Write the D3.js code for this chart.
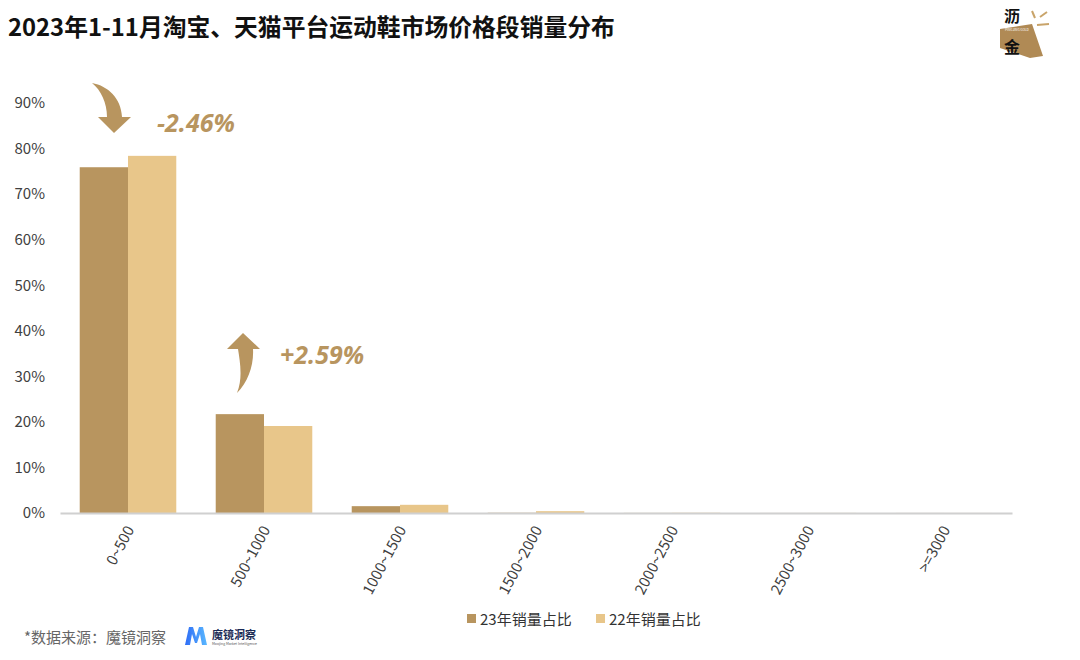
<!DOCTYPE html>
<html><head><meta charset="utf-8">
<script src="https://cdn.jsdelivr.net/npm/d3@7"></script>
<style>body{margin:0;background:#fff;font-family:"Noto Sans CJK SC","Noto Sans",sans-serif;}</style>
</head><body>
<svg id="c" width="1080" height="660"></svg>
<script>
const categories = ["0~500","500~1000","1000~1500","1500~2000","2000~2500","2500~3000",">=3000"];
const series = ["23年销量占比","22年销量占比"];
const values23 = [75.9, 21.7, 1.5, 0.05, 0.02, 0.01, 0.01];
const values22 = [78.4, 19.1, 1.8, 0.4, 0.05, 0.02, 0.01];
const yTicks = [0,10,20,30,40,50,60,70,80,90];
const colors = ["#b8955f","#e8c68a"];

const svg = d3.select("#c");
const m = {l:60, r:1012, t:103, b:513};
const x = d3.scaleBand().domain(categories).range([m.l, m.r]).paddingInner(0.29).paddingOuter(0.145);
const xs = d3.scaleBand().domain(series).range([0, x.bandwidth()]);
const y = d3.scaleLinear().domain([0,90]).range([m.b, m.t]);
const cjk = "'Noto Sans CJK SC','Noto Sans',sans-serif";

// title
svg.append("text").attr("x",8).attr("y",36).attr("font-size",23.8).attr("font-weight","bold").attr("fill","#111")
  .attr("font-family",cjk).text("2023年1-11月淘宝、天猫平台运动鞋市场价格段销量分布");

// y axis labels
const ya = svg.append("g").attr("transform",`translate(${m.l-15},0)`)
  .call(d3.axisLeft(y).tickValues(yTicks).tickFormat(d=>d+"%").tickSize(0).tickPadding(0));
ya.select(".domain").remove();
ya.selectAll("text").attr("font-size",15).attr("fill","#404040").attr("font-family",cjk);

// bars
const data = categories.map((c,i)=>({c, v:[values23[i], values22[i]]}));
const g = svg.append("g");
data.forEach(d=>{
  series.forEach((s,j)=>{
    g.append("rect").attr("x", x(d.c)+xs(s)).attr("y", y(d.v[j])).attr("width", xs.bandwidth())
     .attr("height", y(0)-y(d.v[j])).attr("fill", colors[j]);
  });
});

// x axis
const xa = svg.append("g").attr("transform",`translate(0,${m.b})`)
  .call(d3.axisBottom(x).tickSize(0).tickPadding(0));
xa.select(".domain").attr("stroke","#d0d0d0").attr("stroke-width",2);
xa.selectAll("text").attr("font-size",15).attr("fill","#404040").attr("font-family",cjk)
  .attr("text-anchor","end").attr("dy","0.35em")
  .attr("transform","translate(2,14) rotate(-62)");

// arrows
const ac = "#b8955f";
svg.append("path").attr("fill",ac)
  .attr("d","M92,83 C108,86 121,98 122,117 L131,117 L114,133 L98,117 L107,117 C107,103 101,90 92,83 Z");
svg.append("text").attr("x",157).attr("y",132).attr("font-size",25).attr("font-weight","bold").attr("font-style","italic")
  .attr("fill",ac).attr("font-family","'Open Sans','Noto Sans',sans-serif").text("-2.46%");

svg.append("path").attr("fill",ac)
  .attr("d","M237,393 C243,378 240,362 238,349 L227,349 L243,333 L260,349 L253,349 C254,365 248,382 237,393 Z");
svg.append("text").attr("x",280).attr("y",364).attr("font-size",25).attr("font-weight","bold").attr("font-style","italic")
  .attr("fill",ac).attr("font-family","'Open Sans','Noto Sans',sans-serif").text("+2.59%");

// legend
const lg = svg.append("g").attr("transform","translate(467,619)");
series.forEach((s,j)=>{
  const ox = j*129;
  lg.append("rect").attr("x",ox).attr("y",-5).attr("width",9).attr("height",9).attr("fill",colors[j]);
  lg.append("text").attr("x",ox+13).attr("y",5.5).attr("font-size",15).attr("fill","#333").attr("font-family",cjk).text(s);
});

// source
svg.append("text").attr("x",24).attr("y",643).attr("font-size",15).attr("fill","#666").attr("font-family",cjk).text("*数据来源：魔镜洞察");
const mg = svg.append("g").attr("transform","translate(185,627)");
const grad = svg.append("defs").append("linearGradient").attr("id","mg").attr("x1",0).attr("x2",1);
grad.append("stop").attr("offset",0).attr("stop-color","#2f6df6");
grad.append("stop").attr("offset",1).attr("stop-color","#5ab8ff");
mg.append("path").attr("fill","url(#mg)").attr("d","M0,18 L4,0 L8,0 L11,10 L14,0 L18,0 L22,18 L17,18 L15,7 L12,16 L10,16 L7,7 L5,18 Z");
mg.append("text").attr("x",27).attr("y",12).attr("font-size",11).attr("font-weight","bold").attr("fill","#1a2a55").attr("font-family",cjk).text("魔镜洞察");
mg.append("text").attr("x",27).attr("y",18).attr("font-size",3.5).attr("fill","#555").text("Moojing Market Intelligence");

// logo top right
const lo = svg.append("g");
lo.append("path").attr("fill","#b08a55").attr("d","M1000,29 L1032,24 L1043,56 L1030,58 L1000,48 Z");
lo.append("text").attr("x",1004).attr("y",22).attr("font-size",16).attr("font-weight","bold").attr("fill","#111").attr("font-family",cjk).text("沥");
lo.append("text").attr("x",1004).attr("y",53).attr("font-size",16).attr("font-weight","bold").attr("fill","#111").attr("font-family",cjk).text("金");
lo.append("text").attr("x",1005).attr("y",30.5).attr("font-size",3.2).attr("fill","#fff").text("PINGJING GOLD");
lo.append("line").attr("x1",1032).attr("y1",11).attr("x2",1035).attr("y2",18).attr("stroke","#c9a46a").attr("stroke-width",2);
lo.append("line").attr("x1",1040).attr("y1",17).attr("x2",1047).attr("y2",12).attr("stroke","#c9a46a").attr("stroke-width",2);
lo.append("line").attr("x1",1037).attr("y1",25).attr("x2",1049).attr("y2",24).attr("stroke","#c9a46a").attr("stroke-width",2);
</script>
</body></html>
